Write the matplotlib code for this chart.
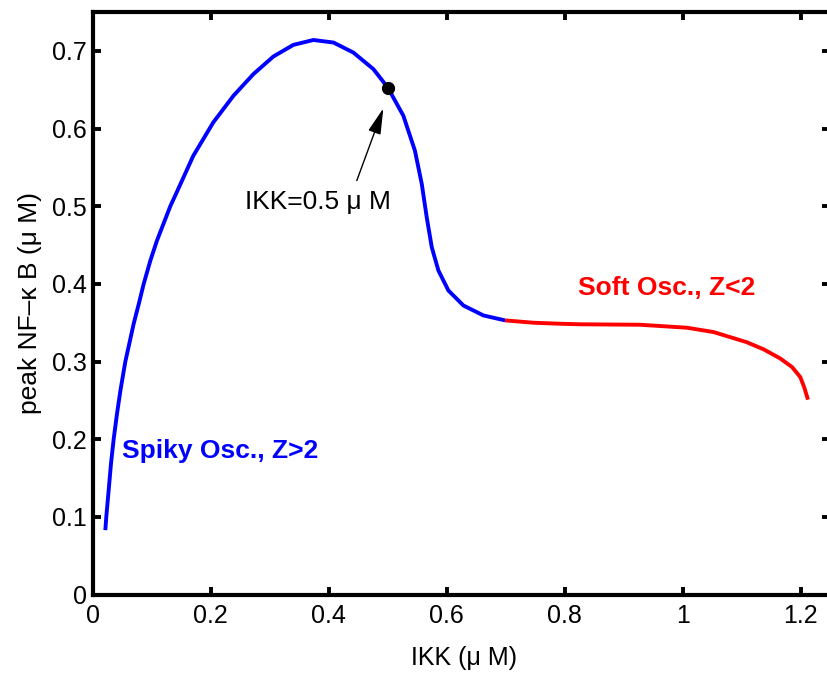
import matplotlib
matplotlib.use('Agg')
import matplotlib.pyplot as plt
from matplotlib.patches import FancyArrowPatch

plt.rcParams['font.family'] = ['Liberation Sans', 'DejaVu Sans']

# peak NF-kB vs IKK, spiky (blue) branch
ikk_spiky = [0.0214, 0.023, 0.027, 0.031, 0.0355, 0.0412, 0.047, 0.0553,
             0.0695, 0.078, 0.0864, 0.0977, 0.109, 0.1315, 0.1424, 0.1705,
             0.2044, 0.2383, 0.2722, 0.3061, 0.340, 0.374, 0.408, 0.4417,
             0.4756, 0.500, 0.5264, 0.546, 0.5576, 0.566, 0.5746, 0.5858,
             0.6027, 0.6281, 0.662, 0.6988]
nfkb_spiky = [0.083, 0.100, 0.134, 0.1688, 0.200, 0.233, 0.263, 0.300,
              0.349, 0.374, 0.400, 0.430, 0.456, 0.500, 0.518, 0.565,
              0.608, 0.642, 0.670, 0.6927, 0.7077, 0.714, 0.7107, 0.6978,
              0.6765, 0.6528, 0.6165, 0.5715, 0.5287, 0.4857, 0.447, 0.4172,
              0.3915, 0.3722, 0.3594, 0.353]

# soft (red) branch
ikk_soft = [0.6988, 0.7468, 0.792, 0.826, 0.9276, 1.0068, 1.052, 1.108,
            1.137, 1.165, 1.185, 1.199, 1.2056, 1.210, 1.212]
nfkb_soft = [0.353, 0.350, 0.3487, 0.348, 0.3474, 0.3436, 0.338, 0.325,
             0.3157, 0.304, 0.293, 0.280, 0.267, 0.256, 0.251]

marked_ikk = 0.5
marked_nfkb = 0.6528

xticks = [0, 0.2, 0.4, 0.6, 0.8, 1, 1.2]
xticklabels = ['0', '0.2', '0.4', '0.6', '0.8', '1', '1.2']
yticks = [0, 0.1, 0.2, 0.3, 0.4, 0.5, 0.6, 0.7]
yticklabels = ['0', '0.1', '0.2', '0.3', '0.4', '0.5', '0.6', '0.7']

fig = plt.figure(figsize=(8.27, 6.75), dpi=100)
ax = fig.add_axes([0.1121, 0.1191, 0.892, 0.8631])

ax.plot(ikk_spiky, nfkb_spiky, color='#0000ff', lw=2.8,
        solid_capstyle='butt', solid_joinstyle='round')
ax.plot(ikk_soft, nfkb_soft, color='#ff0000', lw=2.8,
        solid_capstyle='butt', solid_joinstyle='round')
ax.plot([marked_ikk], [marked_nfkb], 'o', color='black', ms=8.5, zorder=4)

arrow = FancyArrowPatch((0.4475, 0.533), (0.4925, 0.626),
                        arrowstyle='-|>,head_length=0.8,head_width=0.2',
                        mutation_scale=20, color='black', lw=1.0,
                        shrinkA=0, shrinkB=0)
ax.add_patch(arrow)
ax.text(0.2585, 0.506, 'IKK=0.5 μ M', fontsize=19, va='center', ha='left')

ax.text(0.049, 0.1846, 'Spiky Osc., Z>2', color='#0000ff', fontsize=19,
        fontweight='bold', va='center', ha='left')
ax.text(0.823, 0.395, 'Soft Osc., Z<2', color='#ff0000', fontsize=19,
        fontweight='bold', va='center', ha='left')

ax.set_xlim(0, 1.25)
ax.set_ylim(0, 0.75)
ax.set_xticks(xticks)
ax.set_xticklabels(xticklabels)
ax.set_yticks(yticks)
ax.set_yticklabels(yticklabels)
ax.tick_params(direction='in', length=6, width=2.8, labelsize=18,
               top=True, right=True)
ax.tick_params(axis='x', pad=7)
ax.tick_params(axis='y', pad=4)
for sp in ax.spines.values():
    sp.set_linewidth(3)

ax.set_xlabel('IKK (μ M)', fontsize=18)
ax.xaxis.label.set_va('center')
ax.xaxis.set_label_coords(0.503, -0.109)
ax.set_ylabel('peak NF–κ B (μ M)', fontsize=19)
ax.yaxis.label.set_va('center')
ax.yaxis.set_label_coords(-0.085, 0.5)

fig.savefig('out.png', dpi=100)
